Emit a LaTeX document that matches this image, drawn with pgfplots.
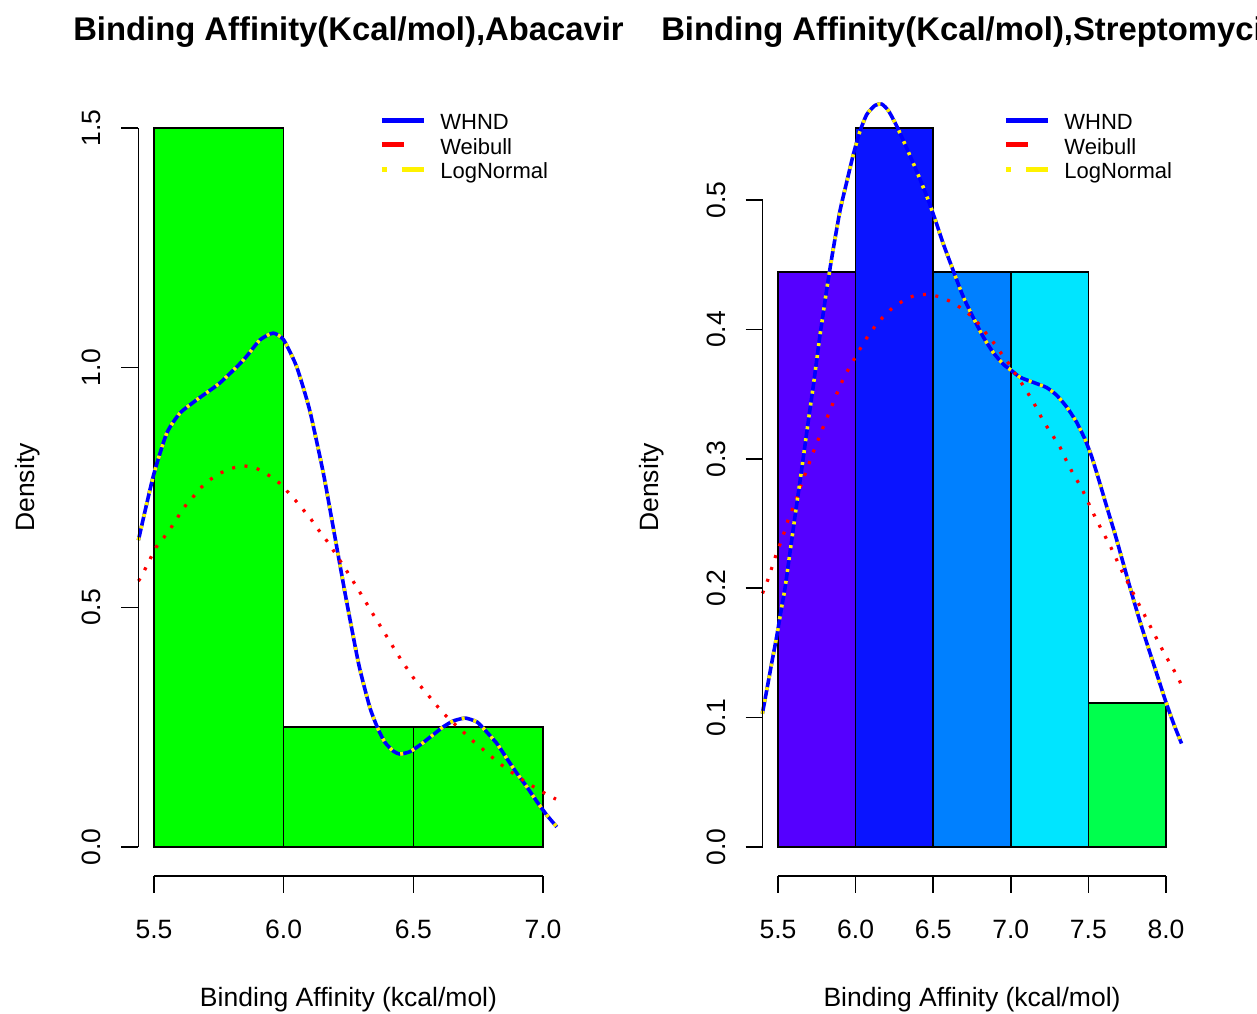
\documentclass[border=0pt]{standalone}
\usepackage{fontspec}
\setmainfont{Liberation Sans}
\usepackage{pgfplots}
\pgfplotsset{compat=1.18}
\definecolor{rbA}{RGB}{85,0,255}
\definecolor{rbB}{RGB}{10,20,255}
\definecolor{rbC}{RGB}{0,128,255}
\definecolor{rbD}{RGB}{0,229,255}
\definecolor{rbE}{RGB}{0,255,77}
\pgfplotsset{
  rpanel/.style={
    scale only axis, width=210.1pt, height=388.3pt, anchor=south west,
    axis lines*=left, axis line style={draw=none}, clip=false,
    tick align=outside, major tick length=8.5pt,
    tick style={black, line width=0.8pt},
    /pgf/number format/assume math mode=true,
    ticklabel style={font=\fontsize{13.25}{15}\selectfont},
    xticklabel style={anchor=base, yshift=-22.8pt},
    yticklabel style={xshift=-10.2pt, rotate=90, anchor=base},
    title style={at={(axis description cs:0.5,1)}, anchor=base, yshift=23.2pt,
      font=\bfseries\fontsize{16.4}{19}\selectfont},
    label style={font=\fontsize{13.25}{15}\selectfont},
    xlabel style={at={(axis description cs:0.5,-0.1677)}, anchor=base},
    ylabel style={at={(axis description cs:-0.248,0.5)}, anchor=base},
    xlabel={Binding Affinity (kcal/mol)}, ylabel={Density},
    legend style={anchor=north west, draw=none, fill=none, inner sep=0pt,
      font=\fontsize{11}{13}\selectfont, row sep=1.75pt, column sep=7pt,
      nodes={inner sep=0pt, text height=8pt, text depth=2.5pt}},
    legend cell align=left,
    legend image code/.code={\draw[##1] (0pt,0.2em) -- (21pt,0.2em);},
  },
  whnd/.style={draw=blue, line width=1.8pt, smooth, tension=0.35},
  weib/.style={draw=red, line width=1.6pt, dash pattern=on 1.5pt off 4.75pt, smooth, tension=0.35},
  lnorm/.style={draw=yellow, line width=1.8pt, dash pattern=on 1.5pt off 4.5pt, smooth, tension=0.35},
  barst/.style={draw=black, line width=0.8pt},
}
\begin{document}
\begin{tikzpicture}
\useasboundingbox (0,0) rectangle (628.5pt,506.5pt);
\clip (0,0) rectangle (628.5pt,506.5pt);
% ---------------- left panel ----------------
\begin{axis}[rpanel, at={(69.2pt,68.6pt)},
  xmin=5.44, xmax=7.06, ymin=-0.06, ymax=1.56,
  xtick={5.5,6,6.5,7}, xticklabels={5.5,6.0,6.5,7.0},
  ytick={0,0.5,1,1.5}, yticklabels={0.0,0.5,1.0,1.5},
  title={Binding Affinity(Kcal/mol),Abacavir},
  legend style={at={(axis description cs:0.5725,0.982)}}]
\addplot[barst, fill=green, forget plot] coordinates {(5.5,0) (5.5,1.5) (6,1.5) (6,0)} --cycle;
\addplot[barst, fill=green, forget plot] coordinates {(6,0) (6,0.25) (6.5,0.25) (6.5,0)} --cycle;
\addplot[barst, fill=green, forget plot] coordinates {(6.5,0) (6.5,0.25) (7,0.25) (7,0)} --cycle;
\pgfplotstableread{
x y
5.440 0.640
5.497 0.773
5.549 0.863
5.600 0.905
5.665 0.933
5.754 0.968
5.845 1.016
5.909 1.058
5.960 1.072
6.000 1.058
6.050 1.002
6.100 0.912
6.153 0.780
6.190 0.670
6.240 0.520
6.290 0.380
6.333 0.290
6.365 0.245
6.391 0.218
6.423 0.200
6.449 0.194
6.487 0.199
6.526 0.213
6.571 0.232
6.616 0.251
6.654 0.263
6.700 0.269
6.745 0.261
6.776 0.244
6.822 0.216
6.860 0.185
6.899 0.154
6.937 0.126
6.976 0.095
7.014 0.067
7.053 0.042
}\leftwhnd
\pgfplotstableread{
x y
5.440 0.555
5.454 0.567
5.508 0.625
5.540 0.647
5.568 0.668
5.594 0.690
5.620 0.711
5.652 0.731
5.680 0.749
5.716 0.766
5.752 0.779
5.800 0.790
5.844 0.795
5.890 0.791
5.935 0.778
5.980 0.761
6.012 0.743
6.044 0.724
6.070 0.707
6.100 0.688
6.128 0.666
6.157 0.646
6.200 0.612
6.250 0.570
6.300 0.526
6.350 0.481
6.400 0.437
6.450 0.393
6.507 0.348
6.532 0.333
6.560 0.315
6.587 0.297
6.620 0.277
6.654 0.259
6.687 0.243
6.719 0.226
6.753 0.211
6.789 0.194
6.825 0.178
6.857 0.164
6.895 0.150
6.935 0.135
6.982 0.120
7.027 0.106
7.050 0.100
}\leftweib
\addplot[whnd, forget plot] table {\leftwhnd};
\addplot[weib, forget plot] table {\leftweib};
\addplot[lnorm, forget plot] table {\leftwhnd};
\addlegendimage{draw=blue, line width=2.5pt}
\addlegendentry{WHND}
\addlegendimage{draw=red, line width=2.5pt, dash pattern=on 11pt off 12pt}
\addlegendentry{Weibull}
\addlegendimage{draw=yellow, line width=2.5pt, dash pattern=on 2.5pt off 7.5pt on 11pt off 5pt}
\addlegendentry{LogNormal}
\draw[line width=0.8pt] (axis cs:5.5,-0.06) -- (axis cs:7,-0.06);
\draw[line width=0.8pt] (axis cs:5.44,0) -- (axis cs:5.44,1.5);
\end{axis}
% ---------------- right panel ----------------
\begin{axis}[rpanel, at={(381.25pt,68.6pt)}, width=209.5pt,
  xmin=5.4, xmax=8.1, ymin=-0.02222, ymax=0.57778,
  xtick={5.5,6,6.5,7,7.5,8}, xticklabels={5.5,6.0,6.5,7.0,7.5,8.0},
  ytick={0,0.1,0.2,0.3,0.4,0.5}, yticklabels={0.0,0.1,0.2,0.3,0.4,0.5},
  title={Binding Affinity(Kcal/mol),Streptomycin},
  legend style={at={(axis description cs:0.574,0.982)}}]
\addplot[barst, fill=rbA, forget plot] coordinates {(5.5,0) (5.5,0.4444) (6,0.4444) (6,0)} --cycle;
\addplot[barst, fill=rbB, forget plot] coordinates {(6,0) (6,0.5556) (6.5,0.5556) (6.5,0)} --cycle;
\addplot[barst, fill=rbC, forget plot] coordinates {(6.5,0) (6.5,0.4444) (7,0.4444) (7,0)} --cycle;
\addplot[barst, fill=rbD, forget plot] coordinates {(7,0) (7,0.4444) (7.5,0.4444) (7.5,0)} --cycle;
\addplot[barst, fill=rbE, forget plot] coordinates {(7.5,0) (7.5,0.1111) (8,0.1111) (8,0)} --cycle;
\pgfplotstableread{
x y
5.399 0.103
5.427 0.121
5.459 0.142
5.492 0.163
5.520 0.183
5.545 0.200
5.566 0.218
5.588 0.237
5.610 0.256
5.635 0.277
5.663 0.301
5.695 0.329
5.727 0.356
5.749 0.376
5.771 0.396
5.792 0.413
5.814 0.431
5.835 0.447
5.860 0.465
5.900 0.492
5.943 0.514
5.985 0.535
6.028 0.553
6.072 0.566
6.125 0.573
6.168 0.574
6.211 0.569
6.265 0.557
6.329 0.540
6.394 0.522
6.458 0.503
6.512 0.485
6.565 0.466
6.630 0.445
6.694 0.425
6.758 0.409
6.823 0.394
6.887 0.382
6.952 0.373
7.006 0.368
7.059 0.363
7.145 0.359
7.231 0.355
7.296 0.349
7.360 0.340
7.425 0.328
7.478 0.315
7.520 0.302
7.564 0.285
7.618 0.263
7.671 0.242
7.725 0.219
7.779 0.196
7.833 0.174
7.886 0.154
7.940 0.134
7.994 0.114
8.047 0.096
8.100 0.080
}\rightwhnd
\pgfplotstableread{
x y
5.400 0.196
5.427 0.204
5.455 0.214
5.485 0.225
5.519 0.236
5.545 0.245
5.571 0.255
5.614 0.267
5.635 0.275
5.674 0.288
5.727 0.305
5.766 0.317
5.803 0.328
5.841 0.339
5.878 0.350
5.914 0.360
5.953 0.369
5.996 0.378
6.039 0.387
6.086 0.396
6.136 0.404
6.189 0.411
6.243 0.417
6.307 0.422
6.378 0.426
6.458 0.427
6.544 0.425
6.619 0.421
6.684 0.416
6.748 0.410
6.802 0.403
6.840 0.397
6.887 0.390
6.935 0.382
6.984 0.374
7.027 0.366
7.077 0.357
7.124 0.348
7.167 0.339
7.210 0.329
7.264 0.319
7.317 0.309
7.356 0.299
7.399 0.289
7.457 0.277
7.500 0.266
7.543 0.255
7.590 0.244
7.639 0.233
7.678 0.223
7.721 0.212
7.768 0.201
7.811 0.191
7.854 0.181
7.897 0.171
7.940 0.161
7.983 0.151
8.030 0.141
8.073 0.132
8.100 0.125
}\rightweib
\addplot[whnd, forget plot] table {\rightwhnd};
\addplot[weib, forget plot] table {\rightweib};
\addplot[lnorm, forget plot] table {\rightwhnd};
\addlegendimage{draw=blue, line width=2.5pt}
\addlegendentry{WHND}
\addlegendimage{draw=red, line width=2.5pt, dash pattern=on 11pt off 12pt}
\addlegendentry{Weibull}
\addlegendimage{draw=yellow, line width=2.5pt, dash pattern=on 2.5pt off 7.5pt on 11pt off 5pt}
\addlegendentry{LogNormal}
\draw[line width=0.8pt] (axis cs:5.5,-0.02222) -- (axis cs:8,-0.02222);
\draw[line width=0.8pt] (axis cs:5.4,0) -- (axis cs:5.4,0.5);
\end{axis}
\end{tikzpicture}
\end{document}
